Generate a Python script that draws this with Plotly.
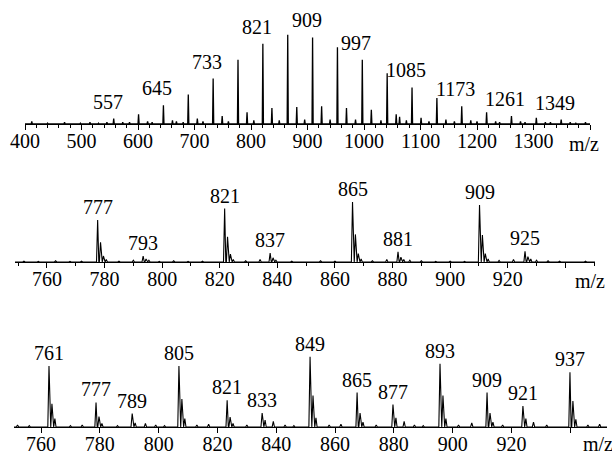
import plotly.graph_objects as go

# ---------------- data ----------------
# Panel 1: full scan 400-1400
top_main_mz = [557, 601, 645, 689, 733, 777, 821, 865, 909, 953, 997, 1041, 1085, 1129, 1173, 1217, 1261, 1305, 1349]
top_main_int = [6, 11, 21, 33, 51, 72, 90, 100, 97, 86, 72, 57, 41, 29, 20, 13, 9, 7, 5]
top_side_mz = [573, 617, 661, 705, 749, 793, 837, 881, 925, 969, 1013, 1057, 1063, 1101, 1145, 1189, 1233, 1277, 1321, 1365]
top_side_int = [2, 3, 4, 6, 9, 13, 18, 19, 20, 18, 16, 11, 8, 7, 5, 4, 3, 3, 2, 2]
top_noise_mz = [412, 440, 470, 498, 515, 530, 545, 585, 625, 668, 680, 715, 760, 805, 850, 895, 940, 985, 1030, 1075, 1115, 1160, 1200, 1240, 1285, 1330, 1375, 1392]
top_noise_int = [3, 1, 2, 1, 2, 1, 2, 2, 2, 3, 2, 3, 3, 4, 4, 5, 5, 5, 4, 4, 3, 3, 3, 2, 2, 2, 1, 2]
top_labels = ["557", "645", "733", "821", "909", "997", "1085", "1173", "1261", "1349"]
top_label_mz = [557, 645, 733, 821, 909, 997, 1085, 1173, 1261, 1349]
top_label_int = [6, 21, 51, 90, 97, 72, 41, 20, 9, 5]
top_ticks = [400, 500, 600, 700, 800, 900, 1000, 1100, 1200, 1300, 1400]
top_ticktext = ["400", "500", "600", "700", "800", "900", "1000", "1100", "1200", "1300", ""]

# Panel 2: zoom 750-950
mid_mz = [777.6, 778.6, 779.6, 780.6, 790.0, 793.4, 794.4, 795.4,
          821.7, 822.7, 823.7, 824.7, 834.0, 837.5, 838.5, 839.5,
          866.1, 867.1, 868.1, 869.1, 878.0, 881.9, 882.9, 883.9, 886.0,
          910.2, 911.2, 912.2, 913.2, 922.0, 926.0, 927.0, 928.0, 930.0]
mid_int = [70, 33, 10, 4, 3, 10, 5, 3,
           89, 42, 13, 4, 4, 15, 7, 3,
           100, 46, 14, 5, 4, 17, 8, 4, 3,
           95, 45, 14, 5, 4, 18, 9, 5, 3]
mid_noise_mz = [752, 757, 763, 768, 772, 785, 799, 804, 809, 814, 829, 845, 850, 855, 860, 873, 890, 895, 900, 905, 917, 934, 938, 943, 947]
mid_noise_int = [1.5, 1, 2, 1, 1.5, 1.5, 1, 2, 1, 1.5, 2, 1.5, 1, 2, 1.5, 2, 2, 1, 1.5, 1, 2.5, 2, 1.5, 1, 1.5]
mid_labels = ["777", "793", "821", "837", "865", "881", "909", "925"]
mid_label_mz = [777.6, 793.4, 821.7, 837.5, 866.1, 881.9, 910.2, 926.0]
mid_label_int = [70, 10, 89, 15, 100, 17, 95, 18]
mid_ticks = [760, 780, 800, 820, 840, 860, 880, 900, 920, 940]
mid_ticktext = ["760", "780", "800", "820", "840", "860", "880", "900", "920", ""]

# Panel 3: zoom 750-952
bot_mz = [762.7, 763.7, 764.7, 778.7, 779.7, 780.7, 791.0, 792.0, 795.5,
          806.9, 807.9, 808.9, 823.3, 824.3, 825.3, 835.2, 836.2, 839.0,
          851.5, 852.5, 853.5, 867.5, 868.5, 869.5, 879.7, 880.7, 883.5,
          895.7, 896.7, 897.7, 906.5, 911.7, 912.7, 913.7, 923.9, 924.9, 927.5,
          939.9, 940.9, 941.9]
bot_int = [87, 33, 12, 35, 15, 5, 19, 6, 5,
           87, 40, 12, 38, 14, 5, 20, 10, 8,
           100, 45, 13, 49, 20, 7, 32, 13, 8,
           90, 45, 12, 6, 49, 20, 7, 30, 12, 7,
           78, 37, 11]
bot_noise_mz = [752, 756, 770, 774, 786, 799, 802, 813, 817, 830, 843, 846, 858, 862, 874, 887, 890, 902, 917, 932, 946, 950]
bot_noise_int = [3, 2, 2, 3, 2, 3, 2, 3, 4, 3, 3, 2, 3, 4, 3, 3, 2, 3, 3, 3, 3, 4]
bot_labels = ["761", "777", "789", "805", "821", "833", "849", "865", "877", "893", "909", "921", "937"]
bot_label_mz = [762.7, 778.7, 791.0, 806.9, 823.3, 835.2, 851.5, 867.5, 879.7, 895.7, 911.7, 923.9, 939.9]
bot_label_int = [87, 35, 19, 87, 38, 20, 100, 49, 32, 90, 49, 30, 78]
bot_ticks = [760, 780, 800, 820, 840, 860, 880, 900, 920, 940]
bot_ticktext = ["760", "780", "800", "820", "840", "860", "880", "900", "920", ""]

FONT = "Liberation Serif"
FS = 20
W, H = 612, 454


def spectrum(mz_lists, int_lists, half_width, xmin, xmax):
    pts = []
    for mzs, ints in zip(mz_lists, int_lists):
        pts.extend(zip(mzs, ints))
    pts.sort()
    xs, ys = [xmin], [0]
    for m, h in pts:
        xs += [m - half_width, m, m + half_width]
        ys += [0, h, 0]
    xs.append(xmax)
    ys.append(0)
    return xs, ys


fig = go.Figure()

# panel geometry (pixels)
panels = [
    dict(x="x", y="y", rng=[400, 1400], xpx=(25, 590), ypx=(0, 124), ymax=139,
         mz=[top_main_mz, top_side_mz, top_noise_mz], it=[top_main_int, top_side_int, top_noise_int],
         hw=1.0, lw=1.3, ticks=top_ticks, ticktext=top_ticktext, minor=20, labels=top_labels,
         lmz=top_label_mz, lint=top_label_int, lshift=17, lxshift=-6, mzx=584, mzy=144),
    dict(x="x2", y="y2", rng=[748.9, 950.3], xpx=(15, 595), ypx=(160, 262), ymax=170,
         mz=[mid_mz, mid_noise_mz], it=[mid_int, mid_noise_int],
         hw=0.4, lw=1.1, ticks=mid_ticks, ticktext=mid_ticktext, minor=10, labels=mid_labels,
         lmz=mid_label_mz, lint=mid_label_int, lshift=13, lxshift=0, mzx=590, mzy=281),
    dict(x="x3", y="y3", rng=[750.8, 952.5], xpx=(14, 607), ypx=(300, 427), ymax=181,
         mz=[bot_mz, bot_noise_mz], it=[bot_int, bot_noise_int],
         hw=0.4, lw=1.1, ticks=bot_ticks, ticktext=bot_ticktext, minor=None, labels=bot_labels,
         lmz=bot_label_mz, lint=bot_label_int, lshift=13, lxshift=0, mzx=598, mzy=444),
]

layout = {}
annotations = []
for i, p in enumerate(panels):
    xs, ys = spectrum(p["mz"], p["it"], p["hw"], p["rng"][0], p["rng"][1])
    fig.add_trace(go.Scatter(x=xs, y=ys, mode="lines", xaxis=p["x"], yaxis=p["y"],
                             line=dict(color="black", width=p["lw"]), hoverinfo="skip",
                             showlegend=False))
    sfx = "" if i == 0 else str(i + 1)
    xaxis = dict(
        domain=[p["xpx"][0] / W, p["xpx"][1] / W], range=p["rng"], anchor="y" + sfx,
        showline=True, linecolor="black", linewidth=1, showgrid=False, zeroline=False,
        ticks="outside", ticklen=5, tickwidth=1, tickcolor="black",
        tickvals=p["ticks"], ticktext=p["ticktext"], automargin=False,
        ticklabelstandoff=-6,
        tickfont=dict(family=FONT, size=FS, color="black"), fixedrange=True,
    )
    if p["minor"]:
        xaxis["minor"] = dict(dtick=p["minor"], tick0=p["ticks"][0], ticks="outside",
                              ticklen=3, tickcolor="black", showgrid=False)
    yaxis = dict(
        domain=[1 - p["ypx"][1] / H, 1 - p["ypx"][0] / H], range=[0, p["ymax"]],
        anchor="x" + sfx, visible=False, fixedrange=True, automargin=False,
    )
    layout["xaxis" + sfx] = xaxis
    layout["yaxis" + sfx] = yaxis
    for t, m, v in zip(p["labels"], p["lmz"], p["lint"]):
        annotations.append(dict(x=m, y=v, xref=p["x"], yref=p["y"], text=t, showarrow=False,
                                yshift=p["lshift"], xshift=p["lxshift"], yanchor="middle",
                                xanchor="center",
                                font=dict(family=FONT, size=FS, color="black")))
    annotations.append(dict(x=p["mzx"] / W, y=1 - p["mzy"] / H, xref="paper", yref="paper",
                            text="m/z", showarrow=False, xanchor="center", yanchor="middle",
                            font=dict(family=FONT, size=FS, color="black")))

fig.update_layout(
    width=W, height=H, margin=dict(l=0, r=0, t=0, b=0, autoexpand=False),
    paper_bgcolor="white", plot_bgcolor="white", hovermode=False,
    annotations=annotations, **layout,
)

fig.write_html("out.html", config={"displayModeBar": False, "staticPlot": True},
               post_script="document.body.style.margin='0';document.body.style.overflow='hidden';")
